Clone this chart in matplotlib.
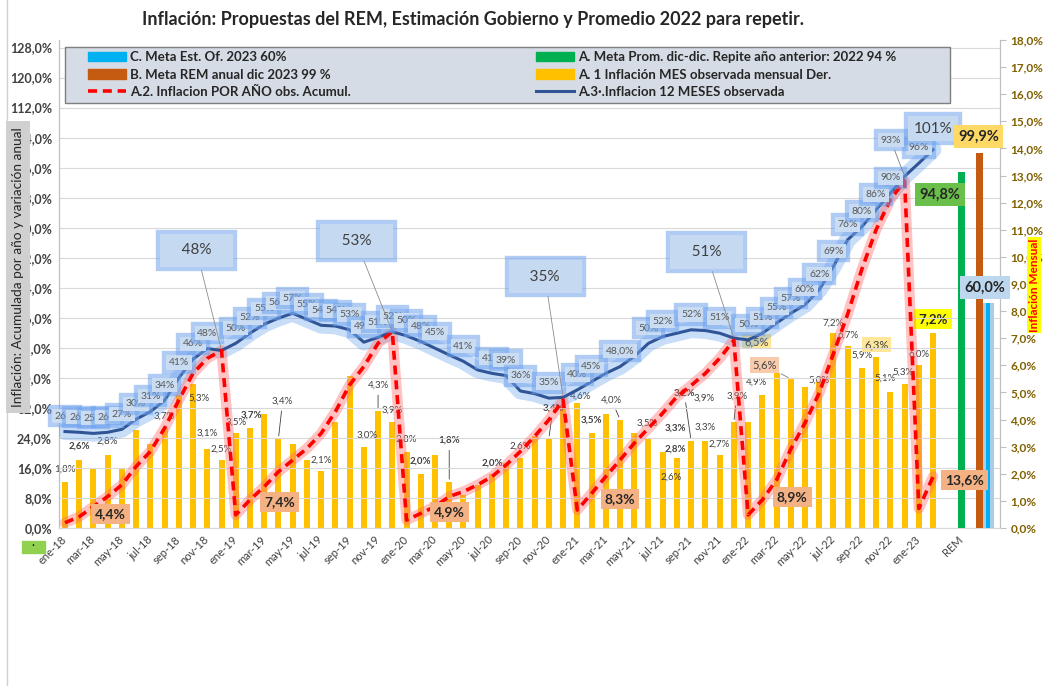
import matplotlib
matplotlib.use('Agg')
import matplotlib.pyplot as plt
import matplotlib.patheffects as pe
from matplotlib.patches import Patch, Rectangle
from matplotlib.lines import Line2D

plt.rcParams['font.family'] = ['Lato', 'DejaVu Sans']

titulo = 'Inflación: Propuestas del REM, Estimación Gobierno y Promedio 2022 para repetir.'

meses = ['ene', 'feb', 'mar', 'abr', 'may', 'jun', 'jul', 'ago', 'sep', 'oct', 'nov', 'dic']
fechas = [m + '-' + str(a) for a in range(18, 24) for m in meses][:62]

# inflacion mensual (eje derecho)
mensual = [1.7, 2.5, 2.2, 2.7, 2.2, 3.6, 3.1, 3.7, 4.9, 5.3, 2.9, 2.5,
           3.5, 3.7, 4.2, 3.3, 3.1, 2.5, 2.1, 3.9, 5.6, 3.0, 4.3, 3.9,
           2.8, 2.0, 2.7, 1.7, 1.2, 1.6, 2.0, 2.4, 2.6, 3.4, 3.3, 4.5,
           4.6, 3.5, 4.2, 4.0, 3.5, 3.3, 2.8, 2.6, 3.2, 3.2, 2.7, 3.9,
           3.9, 4.9, 5.7, 5.5, 5.2, 5.4, 7.2, 6.7, 5.9, 6.3, 5.0, 5.3,
           6.0, 7.2]

# inflacion 12 meses (eje izquierdo)
interanual = [25.7, 25.5, 25.2, 25.5, 26.3, 29.0, 31.0, 34.0, 40.0, 45.0, 47.8, 47.3,
              49.2, 51.9, 54.3, 55.9, 57.2, 55.6, 54.0, 53.8, 52.8, 49.5, 50.8, 52.3,
              51.2, 49.7, 47.9, 46.1, 44.4, 42.1, 41.2, 40.6, 36.5, 35.8, 34.6, 34.8,
              36.8, 39.0, 41.2, 43.0, 45.7, 49.2, 51.0, 51.9, 52.8, 52.6, 51.9, 50.6,
              50.1, 51.9, 54.6, 57.2, 59.5, 63.5, 69.7, 76.8, 80.3, 84.8, 89.2, 93.7,
              97.2, 100.8]

# inflacion acumulada en el año
acumulado = [1.4, 3.0, 5.7, 8.4, 11.5, 16.4, 20.4, 26.6, 34.1, 41.2, 45.2, 47.3,
             3.5, 7.5, 11.0, 15.0, 18.1, 21.2, 25.2, 31.0, 38.1, 43.0, 49.2, 52.3,
             2.1, 3.9, 5.7, 8.4, 9.7, 11.5, 13.7, 16.8, 20.4, 24.4, 28.8, 34.1,
             4.8, 9.2, 13.7, 18.1, 22.6, 26.6, 30.6, 35.0, 38.0, 41.2, 45.2, 50.0,
             3.5, 7.5, 12.8, 21.0, 28.0, 36.0, 46.5, 57.0, 69.0, 79.5, 87.5, 92.5,
             5.2, 13.7]

rem_valores = [94.8, 99.9, 60.0]
rem_textos = ['94,8%', '99,9%', '60,0%']

# etiquetas de la linea 12 meses
lbl_12m = [(0, '26%'), (1, '26%'), (2, '25%'), (3, '26%'), (4, '27%'), (5, '30%'), (6, '31%'),
           (7, '34%'), (8, '41%'), (9, '46%'), (10, '48%'), (12, '50%'), (13, '52%'), (14, '55%'),
           (15, '56%'), (16, '57%'), (17, '55%'), (18, '54%'), (19, '54%'), (20, '53%'), (21, '49%'),
           (22, '51%'), (23, '52%'), (24, '50%'), (25, '48%'), (26, '45%'), (28, '41%'), (30, '41%'),
           (31, '39%'), (32, '36%'), (34, '35%'), (36, '40%'), (37, '45%'), (39, '48,0%'), (41, '50%'),
           (42, '52%'), (44, '52%'), (46, '51%'), (48, '50%'), (49, '51%'), (50, '55%'), (51, '57%'),
           (52, '60%'), (53, '62%'), (54, '69%'), (55, '76%'), (56, '80%'), (57, '86%'), (58, '90%'),
           (60, '96%')]
big_12m = [(11, '48%'), (23, '53%'), (35, '35%'), (47, '51%')]

# etiquetas de barras: indice, texto, dx, dy (pt), negrita, linea guia
lbl_mes = [(0, '1,8%', 0, 9, False, False), (1, '2,6%', 0, 10, True, False),
           (3, '2,8%', 0, 10, False, False), (7, '3,7%', 0, 8, False, False),
           (9, '5,3%', 4, -10, False, False), (10, '3,1%', 0, 12, False, False),
           (11, '2,5%', 0, 8, False, False), (12, '3,5%', 0, 8, False, False),
           (13, '3,7%', 1, 9, True, False), (15, '3,4%', 3, 27, False, True),
           (18, '2,1%', 0, 8, False, False), (21, '3,0%', 2, 8, False, False),
           (22, '4,3%', 0, 19, False, True), (23, '3,9%', 0, 9, False, False),
           (24, '2,8%', 0, 9, False, False), (25, '2,0%', 0, 9, True, False),
           (27, '1,8%', 0, 30, True, True), (30, '2,0%', 0, 8, True, False),
           (32, '2,6%', 0, 8, False, False), (34, '3,4%', 3, 22, True, True),
           (36, '4,6%', 2, 5, False, False), (37, '3,5%', 0, 9, True, False),
           (39, '4,0%', -6, 14, False, True), (41, '3,5%', -1, 11, False, False),
           (43, '3,3%', -1, 21, True, False), (42, '2,8%', 9, 2, True, False),
           (43, '2,6%', -4, -14, False, False), (44, '3,2%', -5, 35, True, True),
           (45, '3,9%', -1, 31, False, False), (45, '3,3%', 0, 10, False, False),
           (46, '2,7%', 0, 8, False, False), (47, '3,9%', 2, 19, False, True),
           (49, '4,9%', -4, 9, False, False), (53, '5,0%', 0, 1, False, False),
           (54, '7,2%', 0, 7, False, False), (55, '6,7%', 0, 8, False, False),
           (56, '5,9%', 0, 9, False, False), (58, '5,1%', -4, 10, False, False),
           (59, '5,3%', -1, 9, False, False), (60, '6,0%', 0, 8, False, False)]
lbl_mes_caja = [(48, '6,5%', 6, 58, '#ffe699'), (51, '5,6%', -19, 10, '#f8cbad'),
                (57, '6,3%', 0, 9, '#ffe699')]

# etiquetas acumulado (x en meses, y en %)
lbl_acum = [(3.2, 3.7, '4,4%'), (15.1, 6.9, '7,4%'), (27.0, 4.3, '4,9%'),
            (39.0, 7.7, '8,3%'), (51.1, 8.3, '8,9%'), (63.2, 12.8, '13,6%')]


def pct(v):
    return ('%.1f%%' % v).replace('.', ',')


def main():
    fig = plt.figure(figsize=(10.46, 6.86), dpi=100)
    ax = fig.add_axes([0.0564, 0.2303, 0.8996, 0.7114])
    ax2 = ax.twinx()
    ax.set_zorder(ax2.get_zorder() + 1)
    ax.patch.set_visible(False)

    x = list(range(len(mensual)))

    # barras mensuales
    ax2.bar(x, mensual, width=0.42, color='#ffc000', zorder=2)
    ax2.set_ylim(0, 18)
    ax2.set_yticks(range(0, 19))
    ax2.set_yticklabels([pct(v) for v in range(0, 19)], color='#7f6000',
                        fontsize=8.5, fontweight='bold')
    ax2.tick_params(axis='y', length=4, color='#bfbfbf')

    # REM
    ax.bar(63.0, rem_valores[0], width=0.45, color='#00b050', zorder=3)
    ax.bar(64.25, rem_valores[1], width=0.5, color='#c55a11', zorder=3)
    ax.bar(64.75, rem_valores[2], width=1.0, color='#a9cbec', zorder=2)
    ax.bar(64.85, rem_valores[2], width=0.32, color='#00b0f0', zorder=3)

    # lineas con brillo
    ax.plot(x, interanual, color='#4a8fe6', lw=12, alpha=0.3, zorder=3,
            solid_capstyle='round', solid_joinstyle='round')
    ax.plot(x, interanual, color='#2f5597', lw=2.2, zorder=5)
    ax.plot(x, acumulado, color='#ff6b6b', lw=7.5, alpha=0.4, zorder=4,
            solid_capstyle='round', solid_joinstyle='round')
    ax.plot(x, acumulado, color='#ff0000', lw=2.6, dashes=(2.5, 1.6), zorder=6)

    glow = [pe.Stroke(linewidth=6, foreground='#6fa3ee', alpha=0.55), pe.Normal()]

    z = 8
    for i, t in lbl_12m:
        a = ax.annotate(t, (i, interanual[i]), xytext=(0, 11), textcoords='offset points',
                        ha='center', va='center', fontsize=7.5, color='#595959', zorder=z,
                        bbox=dict(boxstyle='square,pad=0.25', fc='#c9dcf2', ec='none'))
        a.get_bbox_patch().set_path_effects(glow)
        z += 0.01
    a = ax.annotate('93%', (59, interanual[59]), xytext=(-10, 26), textcoords='offset points',
                    ha='center', va='center', fontsize=7.5, color='#595959', zorder=z,
                    bbox=dict(boxstyle='square,pad=0.25', fc='#c9dcf2', ec='none'),
                    arrowprops=dict(arrowstyle='-', color='#7f7f7f', lw=0.6))
    a.get_bbox_patch().set_path_effects(glow)

    big_off = [(-18, 72), (-26, 65), (-13, 87), (-20, 62)]
    for (i, t), (dx, dy) in zip(big_12m, big_off):
        a = ax.annotate('   ' + t + '   ', (i, interanual[i]), xytext=(dx, dy),
                        textcoords='offset points', ha='center', va='center', fontsize=11,
                        color='#404040', zorder=9,
                        bbox=dict(boxstyle='square,pad=0.65', fc='#c5d9f1', ec='none'),
                        arrowprops=dict(arrowstyle='-', color='#8c8c8c', lw=0.6))
        a.get_bbox_patch().set_path_effects(glow)
    a = ax.annotate('101%', (61, interanual[61]), xytext=(0, 15), textcoords='offset points',
                    ha='center', va='center', fontsize=11, color='#404040', zorder=9,
                    bbox=dict(boxstyle='square,pad=0.35', fc='#c5d9f1', ec='none'))
    a.get_bbox_patch().set_path_effects(glow)

    # etiquetas barras
    for i, t, dx, dy, b, guia in lbl_mes:
        ap = dict(arrowstyle='-', color='#404040', lw=0.6) if guia else None
        ax2.annotate(t, (i, mensual[i]), xytext=(dx, dy), textcoords='offset points',
                     ha='center', va='center', fontsize=7, color='#404040',
                     fontweight='bold' if b else 'normal', arrowprops=ap)
    for i, t, dx, dy, c in lbl_mes_caja:
        ap = dict(arrowstyle='-', color='#7f7f7f', lw=0.6) if dx < -10 else None
        ax2.annotate(t, (i, mensual[i]), xytext=(dx, dy), textcoords='offset points',
                     ha='center', va='center', fontsize=8, color='#404040', arrowprops=ap,
                     bbox=dict(boxstyle='square,pad=0.2', fc=c, ec='none'))
    ax2.annotate('7,2%', (61, mensual[61]), xytext=(0, 10), textcoords='offset points',
                 ha='center', va='center', fontsize=9.5, fontweight='bold', color='#262626',
                 bbox=dict(boxstyle='square,pad=0.3', fc='#ffff00', ec='none'))

    for xi, yi, t in lbl_acum:
        ax.text(xi, yi, t, ha='center', va='center', fontsize=10, fontweight='bold',
                color='#262626', zorder=10,
                bbox=dict(boxstyle='square,pad=0.3', fc='#f4b183', ec='none'))

    rem_pos = [(61.5, 88.8, '#6abf4b'), (64.2, 104.3, '#ffd966'), (64.65, 64.0, '#bdd7ee')]
    for (xi, yi, c), t in zip(rem_pos, rem_textos):
        ax.text(xi, yi, t, ha='center', va='center', fontsize=10.5, fontweight='bold',
                color='#262626', zorder=10,
                bbox=dict(boxstyle='square,pad=0.3', fc=c, ec='none'))

    # ejes
    ax.set_xlim(-0.42, 65.7)
    ax.set_ylim(0, 130)
    ax.set_yticks(range(0, 129, 8))
    ax.set_yticklabels([pct(v) for v in range(0, 129, 8)], color='#404040',
                       fontsize=9, fontweight='bold')
    ax.grid(axis='y', color='#d9d9d9', lw=0.8, zorder=0)
    ax.tick_params(axis='y', length=0, pad=5)
    ax.set_xticks(list(range(0, 62, 2)) + [63])
    ax.set_xticklabels(fechas[::2] + ['REM'], rotation=45, ha='right', va='center',
                       rotation_mode='anchor', fontsize=8, color='#404040')
    ax.tick_params(axis='x', length=0, pad=7)
    for a in (ax, ax2):
        a.spines['top'].set_visible(False)
        a.spines['left'].set_color('#bfbfbf')
        a.spines['right'].set_color('#bfbfbf')
        a.spines['bottom'].set_color('#d9d9d9')

    # leyenda: caja de fondo y entradas sin marco
    ax.add_patch(Rectangle((6 / 941, 425 / 488), 885 / 941, 56 / 488, transform=ax.transAxes,
                           fc='#d6dce5', ec='#7f7f7f', lw=1, zorder=19, clip_on=False))
    handles = [Patch(color='#00b0f0'), Patch(color='#c55a11'),
               Line2D([], [], color='#ff0000', lw=2.6, dashes=(2.5, 1.6)),
               Patch(color='#00b050'), Patch(color='#ffc000'),
               Line2D([], [], color='#2f5597', lw=2.2)]
    names = ['C. Meta Est. Of. 2023 60%', 'B. Meta REM anual dic 2023 99 %',
             'A.2. Inflacion POR AÑO obs. Acumul.',
             'A. Meta Prom. dic-dic. Repite año anterior: 2022 94 %',
             'A. 1 Inflación MES observada mensual Der.',
             'A.3·.Inflacion 12 MESES observada']
    leg = ax.legend(handles, names, ncol=2, loc='upper left',
                    bbox_to_anchor=(29 / 941, 477 / 488), frameon=False,
                    prop={'weight': 'bold', 'size': 9.5}, handlelength=2.9,
                    handleheight=0.7, handletextpad=0.3, labelspacing=0.42,
                    columnspacing=14, borderpad=0, borderaxespad=0)
    leg.set_zorder(20)
    for t in leg.get_texts():
        t.set_color('#262626')
        t.set_fontweight('bold')

    fig.text(0.452, 0.971, titulo, ha='center', va='center', fontsize=13,
             fontweight='bold', color='#262626')
    fig.text(18 / 1046, 1 - 267 / 686, 'Inflación: Acumulada por año y variación anual',
             rotation=90, ha='center', va='center', fontsize=9.8, color='#262626',
             bbox=dict(boxstyle='square,pad=0.45', fc='#d0d0d0', ec='none'), zorder=30)
    fig.text(1034 / 1046, 1 - 285 / 686, 'Inflación Mensual', rotation=90, ha='center',
             va='center', fontsize=8.5, fontweight='bold', color='#ff0000',
             bbox=dict(boxstyle='square,pad=0.15', fc='#ffff00', ec='none'), zorder=30)
    fig.add_artist(Rectangle((22 / 1046, 133 / 686), 23 / 1046, 12 / 686,
                             transform=fig.transFigure, color='#92d050'))
    fig.text(33 / 1046, 138 / 686, '.', ha='center', va='bottom', fontsize=9, color='black')
    fig.add_artist(Line2D([7 / 1046, 7 / 1046], [0, 1], transform=fig.transFigure,
                          color='#d0d0d0', lw=1))

    fig.savefig('out.png', dpi=100)


if __name__ == '__main__':
    main()
